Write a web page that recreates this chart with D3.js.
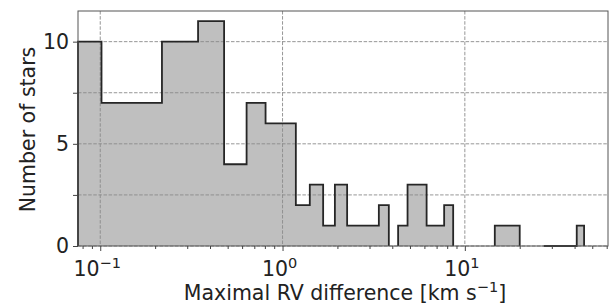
<!DOCTYPE html>
<html>
<head>
<meta charset="utf-8">
<script src="https://cdn.jsdelivr.net/npm/d3@7"></script>
<style>
  body { margin: 0; background: #fff; }
  text { font-family: "DejaVu Sans", sans-serif; fill: #222; }
</style>
</head>
<body>
<div id="chart"></div>
<script>
// histogram bins (km/s)
var binStart = [0.0755, 0.1016, 0.218, 0.344, 0.478, 0.635, 0.807, 1.183, 1.411, 1.670, 1.937, 2.261, 3.375,
                4.305, 4.85, 6.17, 7.70, 14.6, 27.1, 41.1];
var binEnd   = [0.1016, 0.218, 0.344, 0.478, 0.635, 0.807, 1.183, 1.411, 1.670, 1.937, 2.261, 3.375, 3.829,
                4.85, 6.17, 7.70, 8.63, 20.0, 41.1, 45.1];
var binCount = [10, 7, 10, 11, 4, 7, 6, 2, 3, 1, 3, 1, 2,
                1, 3, 1, 2, 1, 0, 1];
var yTicks = [0, 5, 10];
var yGrid = [0, 2.5, 5, 7.5, 10];
var xTicks = [0.1, 1, 10];
var xTickExp = ["−1", "0", "1"];

var width = 611, height = 306;
var margin = {top: 11, right: 3, bottom: 60, left: 78};

var svg = d3.select("#chart").append("svg")
    .attr("width", width)
    .attr("height", height);

var x = d3.scaleLog()
    .domain([0.0755, 61])
    .range([margin.left, width - margin.right]);

var y = d3.scaleLinear()
    .domain([0, 11.5])
    .range([height - margin.bottom, margin.top]);

var bins = binStart.map(function(s, i) {
    return {x0: s, x1: binEnd[i], n: binCount[i]};
});

// runs of adjacent bins share one outline
var groups = [];
bins.forEach(function(b, i) {
    if (i > 0 && binEnd[i - 1] === b.x0) groups[groups.length - 1].push(b);
    else groups.push([b]);
});

function stepPath(g, close) {
    var p = d3.path();
    p.moveTo(x(g[0].x0), y(0));
    g.forEach(function(b) {
        p.lineTo(x(b.x0), y(b.n));
        p.lineTo(x(b.x1), y(b.n));
    });
    p.lineTo(x(g[g.length - 1].x1), y(0));
    if (close) p.closePath();
    return p.toString();
}

// fill
svg.selectAll("path.fill")
    .data(groups)
    .enter()
    .append("path")
    .attr("class", "fill")
    .attr("fill", "#bfbfbf")
    .attr("d", g => stepPath(g, true));

// grid
svg.append("g").selectAll("line")
    .data(yGrid)
    .enter().append("line")
    .attr("x1", margin.left).attr("x2", width - margin.right)
    .attr("y1", d => y(d)).attr("y2", d => y(d))
    .attr("stroke", "#8a8a8a").attr("stroke-width", 0.9)
    .attr("stroke-dasharray", "3.5,1.6");

svg.append("g").selectAll("line")
    .data(xTicks)
    .enter().append("line")
    .attr("x1", d => x(d)).attr("x2", d => x(d))
    .attr("y1", margin.top).attr("y2", y(0))
    .attr("stroke", "#8a8a8a").attr("stroke-width", 0.9)
    .attr("stroke-dasharray", "3.5,1.6");

// step outline
svg.selectAll("path.step")
    .data(groups)
    .enter()
    .append("path")
    .attr("class", "step")
    .attr("fill", "none")
    .attr("stroke", "#262626")
    .attr("stroke-width", 1.8)
    .attr("d", g => stepPath(g, false));

// frame
svg.append("rect")
    .attr("x", margin.left).attr("y", margin.top)
    .attr("width", width - margin.right - margin.left)
    .attr("height", y(0) - margin.top)
    .attr("fill", "none").attr("stroke", "#555").attr("stroke-width", 1);

// x axis
var minor = [];
[0.01, 0.1, 1, 10].forEach(function(dec) {
    for (var k = 2; k <= 9; k++) {
        var v = dec * k;
        if (v > x.domain()[0] && v < x.domain()[1]) minor.push(v);
    }
});
var xAxis = svg.append("g").attr("transform", "translate(0," + y(0) + ")");
xAxis.call(d3.axisBottom(x).tickValues(minor).tickSize(3).tickFormat(""));
xAxis.append("g").call(d3.axisBottom(x).tickValues(xTicks).tickSize(5).tickFormat(""));
xAxis.selectAll(".domain").remove();
xAxis.selectAll("line").attr("stroke", "#444");

svg.append("g").selectAll("text")
    .data(xTicks)
    .enter().append("text")
    .attr("x", d => x(d) - 3)
    .attr("y", 276)
    .attr("text-anchor", "middle")
    .style("font-size", "20.5px")
    .each(function(d, i) {
        var t = d3.select(this);
        t.append("tspan").text("10");
        t.append("tspan").attr("dy", -8).style("font-size", "14.5px").text(xTickExp[i]);
    });

// y axis
var yAxis = svg.append("g").attr("transform", "translate(" + margin.left + ",0)");
yAxis.call(d3.axisLeft(y).tickValues(yGrid).tickSize(5).tickFormat(""));
yAxis.selectAll(".domain").remove();
yAxis.selectAll("line").attr("stroke", "#444");

svg.append("g").selectAll("text")
    .data(yTicks)
    .enter().append("text")
    .attr("x", 69)
    .attr("y", d => y(d))
    .attr("dy", "0.36em")
    .attr("text-anchor", "end")
    .style("font-size", "20.5px")
    .text(d => d);

// axis labels
svg.append("text")
    .attr("transform", "translate(28," + ((margin.top + y(0)) / 2 + 1) + ") rotate(-90)")
    .attr("text-anchor", "middle")
    .attr("dy", "0.36em")
    .style("font-size", "20.5px")
    .text("Number of stars");

var xl = svg.append("text")
    .attr("x", (margin.left + width - margin.right) / 2 + 2)
    .attr("y", 300)
    .attr("text-anchor", "middle")
    .style("font-size", "20.5px");
xl.append("tspan").text("Maximal RV difference [km s");
xl.append("tspan").attr("dy", -8).style("font-size", "14.5px").text("−1");
xl.append("tspan").attr("dy", 8).text("]");
</script>
</body>
</html>
